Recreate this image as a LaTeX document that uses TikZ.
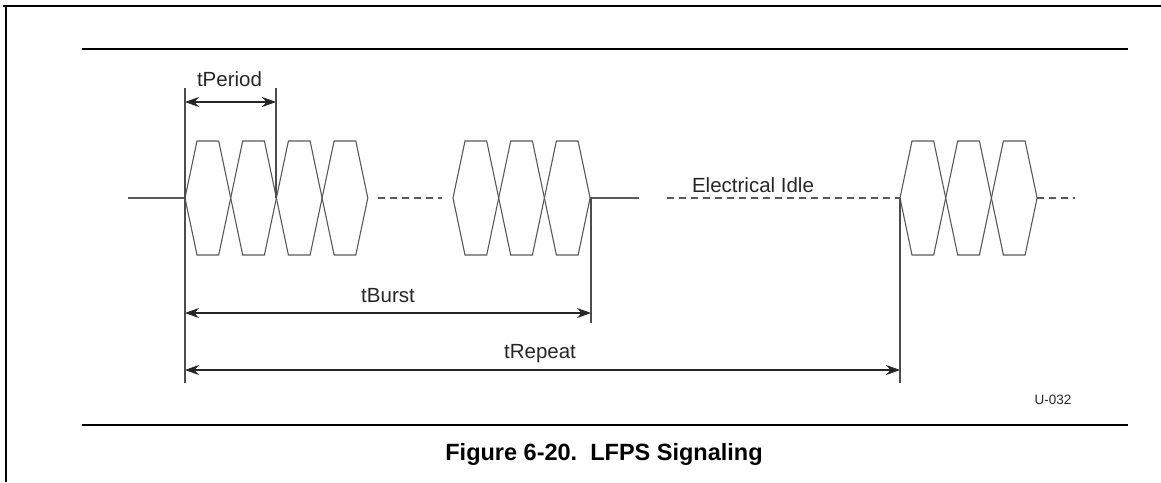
\documentclass[tikz,border=0pt]{standalone}
\usepackage{fontspec}
\setmainfont{Liberation Sans}
\usetikzlibrary{arrows.meta}
\begin{document}
\begin{tikzpicture}[x=1pt,y=-1pt,
  sig/.style={draw=black!65,line width=1.1pt,line join=miter},
  idle/.style={draw=black!65,line width=1.1pt,dash pattern=on 7pt off 5pt},
  tick/.style={draw=black!70,line width=1.2pt},
  dim/.style={draw=black!85,line width=1.1pt,{Stealth[length=14pt,width=10pt]}-{Stealth[length=14pt,width=10pt]}},
  rule/.style={draw=black,line width=2pt},
  lbl/.style={font=\fontsize{20.5}{24}\selectfont,text=black!85,inner sep=0pt,anchor=base},
  hex/.pic={\draw[sig] (0,0) -- (12,-57) -- (33.7,-57) -- (45.7,0) -- (33.7,57) -- (12,57) -- cycle;}
]
\useasboundingbox (0,0) rectangle (1161,482);
% frame and rules
\draw[rule] (3,6) -- (1161,6);
\draw[rule] (6,6) -- (6,482);
\coordinate (r1a) at (82,49); \coordinate (r1b) at (1128,49);
\coordinate (r2a) at (82,425); \coordinate (r2b) at (1128,425);
\draw[rule] (r1a) -- (r1b);
\draw[rule] (r2a) -- (r2b);
% bursts
\foreach \k in {0,1,2,3} \pic at ({185+45.7*\k},198) {hex};
\foreach \k in {0,1,2} \pic at ({453+45.7*\k},198) {hex};
\foreach \k in {0,1,2} \pic at ({900+45.7*\k},198) {hex};
% baseline segments
\coordinate (s0) at (128,198); \coordinate (b1s) at (185,198);
\coordinate (d1a) at (378,198); \coordinate (d1b) at (442,198);
\coordinate (b2e) at (590,198); \coordinate (s2e) at (639,198);
\coordinate (d2a) at (667,198); \coordinate (b3s) at (900,198);
\coordinate (b3e) at (1037,198); \coordinate (d3b) at (1075,198);
\draw[sig] (s0) -- (b1s);
\draw[idle] (d1a) -- (d1b);
\draw[sig] (b2e) -- (s2e);
\draw[idle] (d2a) -- (b3s);
\draw[idle] (b3e) -- (d3b);
% ticks
\coordinate (t1a) at (185,88); \coordinate (t1b) at (185,383);
\coordinate (t2a) at (276,88); \coordinate (t2b) at (276,198);
\coordinate (t3a) at (591,198); \coordinate (t3b) at (591,323);
\coordinate (t4a) at (900,198); \coordinate (t4b) at (900,383);
\draw[tick] (t1a) -- (t1b);
\draw[tick] (t2a) -- (t2b);
\draw[tick] (t3a) -- (t3b);
\draw[tick] (t4a) -- (t4b);
% dimension arrows
\coordinate (pa) at (185,102); \coordinate (pb) at (276,102);
\coordinate (ba) at (185,313); \coordinate (bb) at (591,313);
\coordinate (ra) at (185,370); \coordinate (rb) at (900,370);
\draw[dim] (pa) -- (pb);
\draw[dim] (ba) -- (bb);
\draw[dim] (ra) -- (rb);
% labels
\node[lbl] (lper) at (229.5,86) {tPeriod};
\node[lbl] (lbur) at (388,302) {tBurst};
\node[lbl] (lrep) at (540,358) {tRepeat};
\node[lbl] (lidle) at (753,192) {Electrical Idle};
\node[inner sep=0pt,anchor=base,font=\fontsize{13.5}{16}\selectfont,text=black!85] (lid) at (1053,404) {U-032};
\node[inner sep=0pt,anchor=base,font=\fontsize{23.5}{27}\selectfont\bfseries] (cap) at (604,460) {Figure 6-20.\ \ LFPS Signaling};
\end{tikzpicture}
\end{document}
